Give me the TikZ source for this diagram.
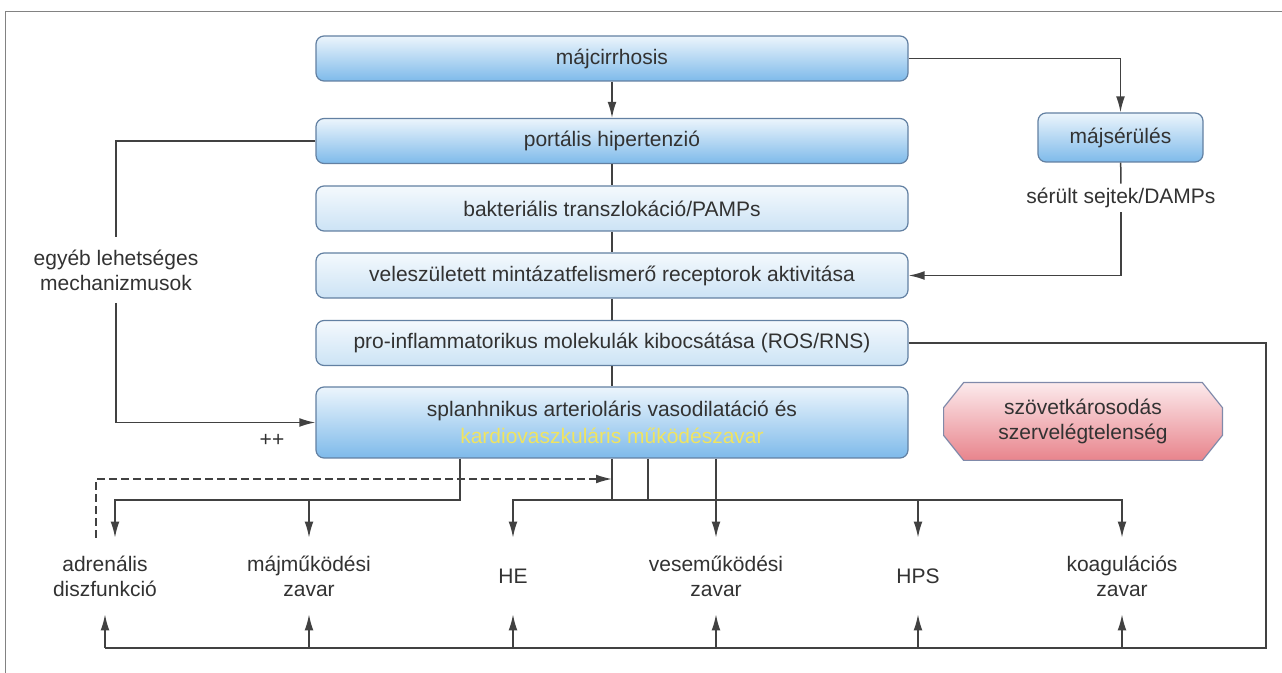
\documentclass[tikz,border=0pt]{standalone}
\usepackage{fontspec}
\setmainfont{Liberation Sans}
\usetikzlibrary{arrows.meta,calc,backgrounds}
\definecolor{boxLine}{RGB}{98,128,162}
\definecolor{boxTop}{RGB}{236,245,252}
\definecolor{boxBottom}{RGB}{126,186,234}
\definecolor{paleTop}{RGB}{244,249,253}
\definecolor{paleBottom}{RGB}{204,227,245}
\definecolor{harmTop}{RGB}{252,234,236}
\definecolor{harmBottom}{RGB}{232,132,140}
\definecolor{harmLine}{RGB}{128,138,170}
\definecolor{inkGray}{RGB}{50,50,50}
\definecolor{lineGray}{RGB}{65,65,65}
\definecolor{frameGray}{RGB}{130,130,130}
\definecolor{cardioYellow}{RGB}{240,228,96}
\tikzset{
  flow box/.style={draw=boxLine,top color=boxTop,bottom color=boxBottom,rounded corners=4pt,line width=0.6pt,align=center,text=inkGray,font=\fontsize{10.5}{13.5}\selectfont,minimum width=296pt,minimum height=22.5pt,inner sep=0pt},
  pale box/.style={flow box,top color=paleTop,bottom color=paleBottom},
  harm box/.style={align=center,text=inkGray,font=\fontsize{10.5}{12.6}\selectfont,minimum width=139pt,minimum height=38.5pt,inner sep=0pt},
  harm shape/.style={draw=harmLine,top color=harmTop,bottom color=harmBottom,line width=0.6pt},
  plain label/.style={align=center,text=inkGray,font=\fontsize{10.5}{12.6}\selectfont,inner xsep=2pt},
  end label/.style={plain label,minimum height=38pt,inner ysep=0pt},
  link/.style={line width=0.75pt,draw=lineGray},
  arr/.style={link,-{Latex[length=8pt,width=4.4pt]}},
  frame line/.style={line width=0.5pt,draw=frameGray}
}
\begin{document}
\begin{tikzpicture}[x=0.5pt,y=-0.5pt]
  \useasboundingbox (0,0) rectangle (1282,673);
  \draw[frame line] (5,673) -- (5,12) -- (1282,12);
  \node[flow box] (cirr) at (612,58.5) {májcirrhosis};
  \node[flow box] (port) at (612,141) {portális hipertenzió};
  \node[pale box] (bakt) at (612,208.5) {bakteriális transzlokáció/PAMPs};
  \node[pale box] (vele) at (612,275.5) {veleszületett mintázatfelismerő receptorok aktivitása};
  \node[pale box] (pro) at (612,343) {pro-inflammatorikus molekulák kibocsátása (ROS/RNS)};
  \node[flow box,minimum height=35.5pt] (splan) at (612,422.5) {splanhnikus arterioláris vasodilatáció és\\\textcolor{cardioYellow}{kardiovaszkuláris működészavar}};
  \node[flow box,minimum width=82.5pt,minimum height=24.5pt] (injury) at (1120.5,137.5) {májsérülés};
  \node[plain label,inner ysep=2pt] (damps) at (1121,198) {sérült sejtek/DAMPs};
  \node[plain label,inner ysep=6pt] (other) at (116,270) {egyéb lehetséges\\mechanizmusok};
  \node[plain label] (plus) at (272,440) {++};
  \node[harm box] (harm) at (1083,421.5) {szövetkárosodás\\szervelégtelenség};
  \begin{scope}[on background layer]
    \shade[harm shape] ($(harm.north west)+(20,0)$) -- ($(harm.north east)+(-20,0)$)
      -- ($(harm.north east)+(0,25)$) -- ($(harm.south east)+(0,-25)$)
      -- ($(harm.south east)+(-20,0)$) -- ($(harm.south west)+(20,0)$)
      -- ($(harm.south west)+(0,-25)$) -- ($(harm.north west)+(0,25)$) -- cycle;
  \end{scope}
  \node[end label] (adren) at (105,576) {adrenális\\diszfunkció};
  \node[end label] (majzavar) at (309,576) {májműködési\\zavar};
  \node[end label] (he) at (513,576) {HE};
  \node[end label] (vese) at (716,576) {veseműködési\\zavar};
  \node[end label] (hps) at (918,576) {HPS};
  \node[end label] (koag) at (1122,576) {koagulációs\\zavar};
  \coordinate (loopEnd) at (1266,648);
  \coordinate (busLeft) at (460,500);
  \coordinate (busRight) at (612,500);
  \coordinate (busJoin) at (648,500);
  \coordinate (dashEnd) at (612,479);
  \draw[arr] (cirr) -- (port);
  \draw[arr] (cirr.east) -| (injury.north);
  \draw[link] (injury) -- (damps);
  \draw[arr] (damps) |- (vele.east);
  \draw[link] (port) -- (bakt);
  \draw[link] (bakt) -- (vele);
  \draw[link] (vele) -- (pro);
  \draw[link] (pro) -- (splan);
  \draw[link] (port.west) -| (other.north);
  \draw[arr] (other.south) |- (splan.west);
  \draw[link] (pro.east) -| (loopEnd) -- (adren.south |- loopEnd);
  \foreach \n in {adren,majzavar,he,vese,hps,koag}
    \draw[arr] (\n.south |- loopEnd) -- (\n.south);
  \draw[arr] (splan.south -| busLeft) -- (busLeft) -| ($(adren.north)+(10,0)$);
  \draw[arr] (majzavar.north |- busLeft) -- (majzavar.north);
  \draw[arr] (splan.south) -- (busRight) -| (he.north);
  \draw[arr] (busRight) -| (koag.north);
  \draw[link] (splan.south -| busJoin) -- (busJoin);
  \draw[arr] (splan.south -| vese.north) -- (vese.north);
  \draw[arr] (hps.north |- busRight) -- (hps.north);
  \draw[arr,dash pattern=on 4pt off 2pt] ($(adren.north)+(-9,0)$) |- (dashEnd);
\end{tikzpicture}
\end{document}
